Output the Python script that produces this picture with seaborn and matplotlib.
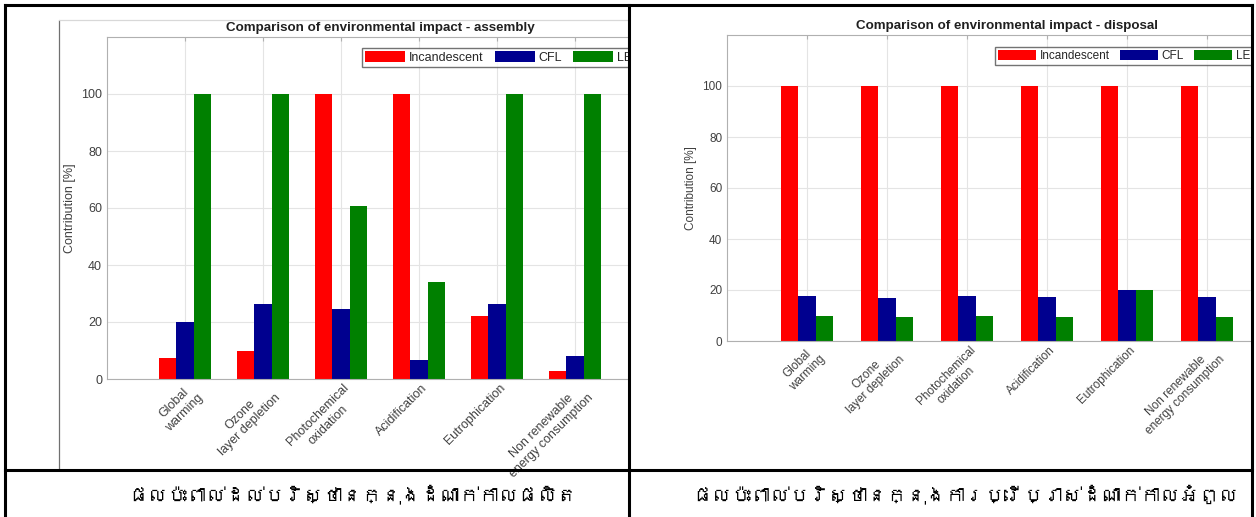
import numpy as np
import pandas as pd
import matplotlib
matplotlib.use("Agg")
import matplotlib.pyplot as plt
import matplotlib.transforms as mtransforms
import seaborn as sns
from matplotlib import font_manager
from matplotlib.lines import Line2D
from matplotlib.patches import Rectangle

# Data
categories = ["Global\nwarming", "Ozone\nlayer depletion", "Photochemical\noxidation",
              "Acidification", "Eutrophication", "Non renewable\nenergy consumption"]
lamps = ["Incandescent", "CFL", "LED"]

assembly_incandescent = [7.4, 9.9, 100, 100, 22.1, 2.8]
assembly_cfl = [20.1, 26.3, 24.4, 6.7, 26.4, 8.1]
assembly_led = [100, 100, 60.6, 33.9, 100, 100]

disposal_incandescent = [100, 100, 100, 100, 100, 100]
disposal_cfl = [17.8, 16.8, 17.8, 17.4, 19.9, 17.1]
disposal_led = [10.0, 9.4, 10.0, 9.6, 19.9, 9.6]

captions = ["ផលប៉ះពាល់ដល់បរិស្ថានក្នុងដំណាក់កាលផលិត",
            "ផលប៉ះពាល់បរិស្ថានក្នុងការប្រើប្រាស់ដំណាក់កាលអំពូល"]

colors = ["#ff0000", "#00008f", "#008000"]

W, H = 1256, 517


def fx(px):
    return px / W


def fy(py):
    return 1 - py / H


# look for any installed font that has Khmer glyphs
khmer_family = None
try:
    from fontTools.ttLib import TTFont
    for f in font_manager.fontManager.ttflist:
        try:
            tt = TTFont(f.fname, fontNumber=0, lazy=True)
            if 0x1780 in tt.getBestCmap():
                khmer_family = f.name
                break
        except Exception:
            pass
except Exception:
    pass
caption_fonts = ([khmer_family] if khmer_family else []) + ["DejaVu Sans"]


def long_df(inc, cfl, led):
    rows = []
    for lamp, vals in zip(lamps, [inc, cfl, led]):
        for c, v in zip(categories, vals):
            rows.append({"category": c, "lamp": lamp, "value": v})
    return pd.DataFrame(rows)


sns.set_style("white")
plt.rcParams["font.family"] = ["Liberation Sans", "DejaVu Sans"]

fig = plt.figure(figsize=(W / 100, H / 100), dpi=100)
fig.patch.set_facecolor("white")


def draw_panel(ax, df, title, fs, leg_x, leg_y):
    sns.barplot(data=df, x="category", y="value", hue="lamp", hue_order=lamps,
                palette=colors, width=0.66, ax=ax, edgecolor="none",
                errorbar=None, saturation=1)
    ax.set_xlim(-1, 6)
    ax.set_ylim(0, 120)
    ax.set_yticks([0, 20, 40, 60, 80, 100])
    ax.grid(True, color="#e4e4e4", lw=0.8)
    ax.set_axisbelow(True)
    for s in ax.spines.values():
        s.set_color("#b0b0b0")
        s.set_linewidth(0.8)
    ax.tick_params(axis="both", colors="#b0b0b0", labelcolor="#404040",
                   labelsize=fs, direction="in", length=3, top=True)
    ax.tick_params(axis="x", pad=2)
    ax.set_xticks(range(len(categories)))
    ax.set_xticklabels(categories, rotation=45, ha="right", va="top",
                       rotation_mode="anchor", multialignment="center")
    shift = mtransforms.ScaledTranslation(2 / 100, 0, fig.dpi_scale_trans)
    for lab in ax.get_xticklabels():
        lab.set_transform(lab.get_transform() + shift)
    ax.set_xlabel("")
    ax.set_ylabel("Contribution [%]", fontsize=fs, color="#404040")
    ax.set_title(title, fontsize=9.6, fontweight="bold", color="#202020", pad=4)
    ax.legend(loc="upper left", ncol=3, fontsize=fs, frameon=True, fancybox=False,
              edgecolor="#505050", handlelength=3.2, handleheight=1.0,
              columnspacing=0.9, handletextpad=0.3, borderpad=0.25,
              borderaxespad=0, bbox_to_anchor=(leg_x, leg_y))


# left panel (assembly)
ax1 = fig.add_axes([fx(107), fy(379), fx(653) - fx(107), fy(37) - fy(379)], zorder=1)
draw_panel(ax1, long_df(assembly_incandescent, assembly_cfl, assembly_led),
           "Comparison of environmental impact - assembly", 9, 0.467, 0.968)

# hide the part of the left chart past its cell
fig.add_artist(Rectangle((fx(630), 0), 1 - fx(630), 1, transform=fig.transFigure,
                         facecolor="white", edgecolor="none", zorder=2))

# right panel (disposal)
ax2 = fig.add_axes([fx(727), fy(341), fx(1287) - fx(727), fy(35) - fy(341)], zorder=3)
draw_panel(ax2, long_df(disposal_incandescent, disposal_cfl, disposal_led),
           "Comparison of environmental impact - disposal", 8.5, 0.479, 0.961)

fig.add_artist(Rectangle((fx(1253), 0), 1 - fx(1253), 1, transform=fig.transFigure,
                         facecolor="white", edgecolor="none", zorder=4))

# gray border of the left picture
fig.add_artist(Line2D([fx(59), fx(59)], [fy(20), fy(470)], color="#707070", lw=0.9, zorder=5))
fig.add_artist(Line2D([fx(59), fx(629)], [fy(20), fy(20)], color="#d8d8d8", lw=0.9, zorder=5))

# table lines
lk = dict(color="black", lw=2.2, zorder=6, solid_capstyle="projecting")
fig.add_artist(Line2D([fx(5), fx(1252)], [fy(5), fy(5)], **lk))
fig.add_artist(Line2D([fx(5), fx(5)], [fy(5), fy(517)], **lk))
fig.add_artist(Line2D([fx(629), fx(629)], [fy(5), fy(517)], **lk))
fig.add_artist(Line2D([fx(1252), fx(1252)], [fy(5), fy(517)], **lk))
fig.add_artist(Line2D([fx(5), fx(1252)], [fy(470), fy(470)], **lk))

# captions
for cx, cap in zip([352, 965], captions):
    fig.text(fx(cx), fy(494), cap, fontsize=14, ha="center", va="center",
             family=caption_fonts, color="black", zorder=7)

fig.savefig("out.png", dpi=100, facecolor="white")
